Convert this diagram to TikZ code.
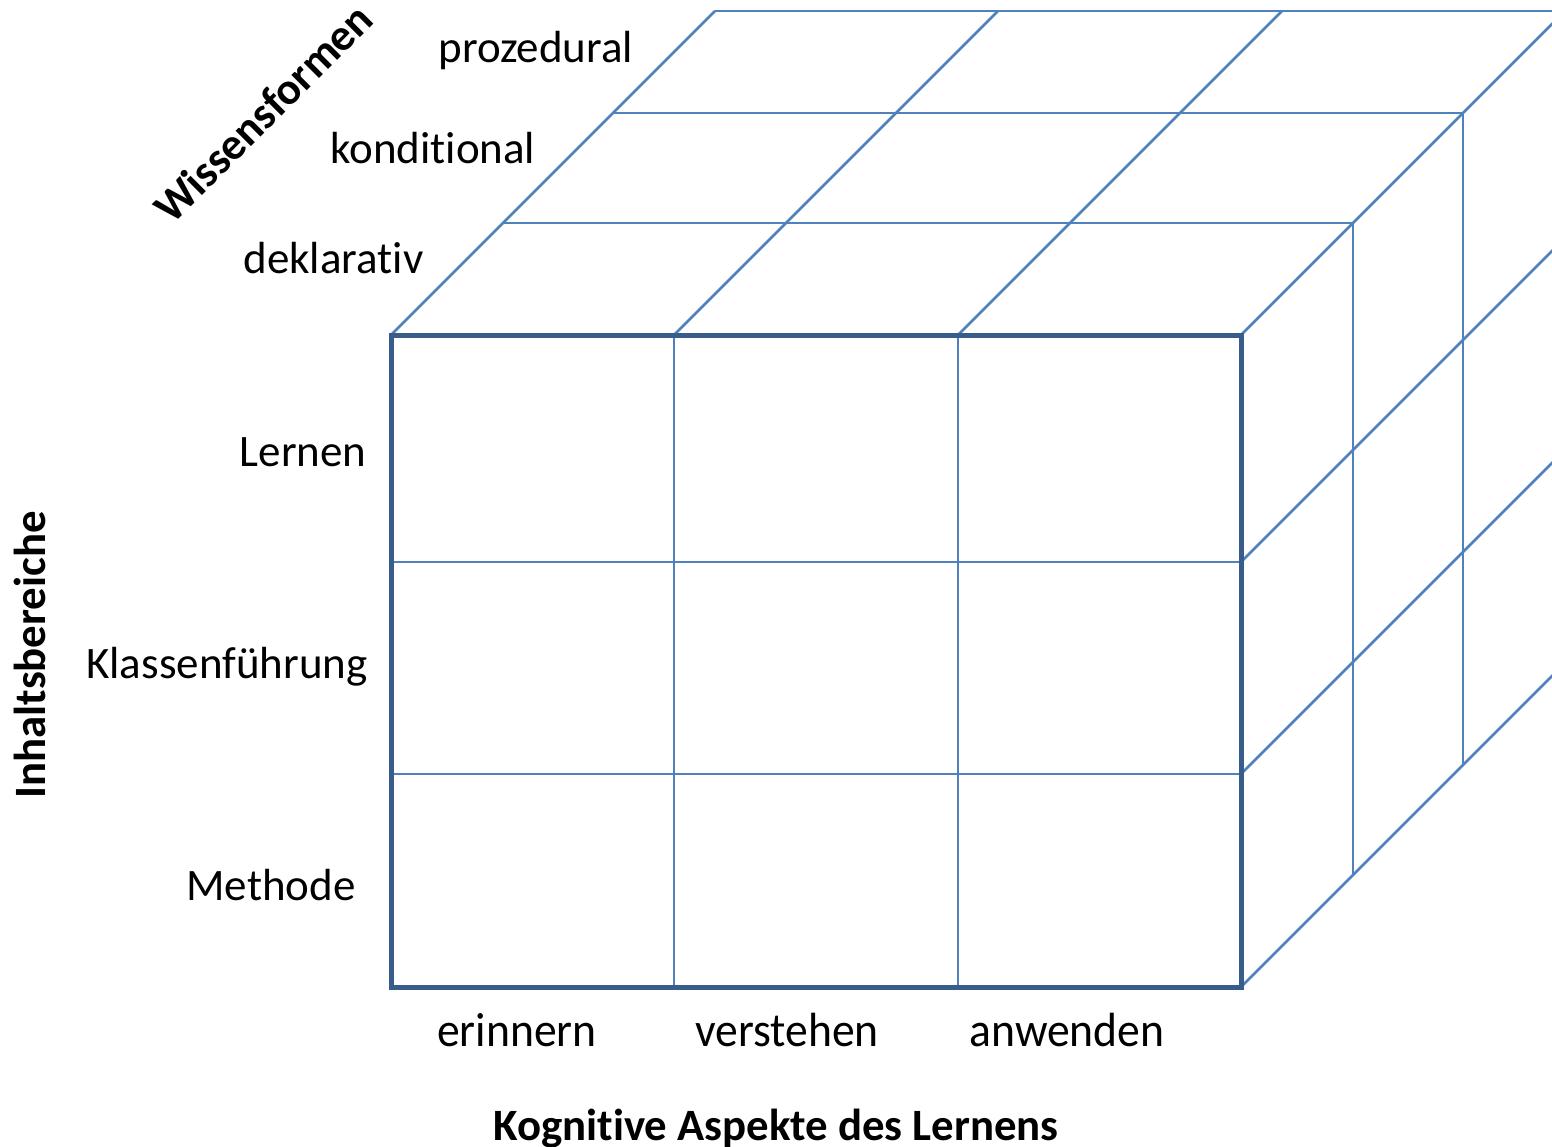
\documentclass[tikz,border=0pt]{standalone}
\usepackage{fontspec}
\setmainfont{Carlito}[Ligatures={NoCommon,NoContextual}]
\definecolor{gridblue}{HTML}{4F81BD}
\definecolor{frameblue}{HTML}{385D8A}
\begin{document}
\begin{tikzpicture}[x=0.5pt,y=-0.5pt,
  gridline/.style={draw=gridblue,line width=1.3pt},
  frontframe/.style={draw=frameblue,line width=2.5pt,line join=miter},
  lab/.style={font=\fontsize{22.5}{27}\selectfont,inner sep=0pt,text=black},
  blab/.style={font=\fontsize{24}{28}\selectfont,inner sep=0pt,anchor=base,xscale=0.95,text=black},
  title/.style={font=\fontsize{22.4}{27}\selectfont\bfseries,inner sep=0pt,text=black}]
\clip (0,0) rectangle (1552,1146);
\fill[white] (0,0) rectangle (1552,1146);
% top face and right face, depth layers
\foreach \d in {112,222,324}
  \draw[gridline] (391+\d,335-\d) -- (1241+\d,335-\d) -- (1241+\d,987-\d);
% top face diagonals
\foreach \x in {391,674,958,1241}
  \draw[gridline] (\x,335) -- ++(324,-324);
% right face diagonals
\foreach \y in {562,774,987}
  \draw[gridline] (1241,\y) -- ++(324,-324);
% front face inner grid
\foreach \x in {674,958}
  \draw[gridline] (\x,335) -- (\x,987);
\foreach \y in {562,774}
  \draw[gridline] (391,\y) -- (1241,\y);
\draw[frontframe] (391,335) rectangle (1241,987);
% labels
\node[lab,anchor=base west] (proz) at (438,62) {prozedural};
\node[lab,anchor=base west] (kond) at (330,163) {konditional};
\node[lab,anchor=base west] (dekl) at (243,273) {deklarativ};
\node[lab,anchor=base east] (lernen) at (367,466) {Lernen};
\node[lab,anchor=base east] (klass) at (368,678) {Klassenführung};
\node[lab,anchor=base east] (methode) at (356,900) {Methode};
\node[blab] (erin) at (517,1046) {erinnern};
\node[blab] (verst) at (787,1046) {verstehen};
\node[blab] (anw) at (1067,1046) {anwenden};
\node[title,anchor=base] (kog) at (776,1140) {Kognitive Aspekte des Lernens};
\node[title,anchor=base,rotate=90] (inh) at (45,655) {Inhaltsbereiche};
\node[title,anchor=center,rotate=45] (wiss) at (263,113) {Wissensformen};
\end{tikzpicture}
\end{document}
